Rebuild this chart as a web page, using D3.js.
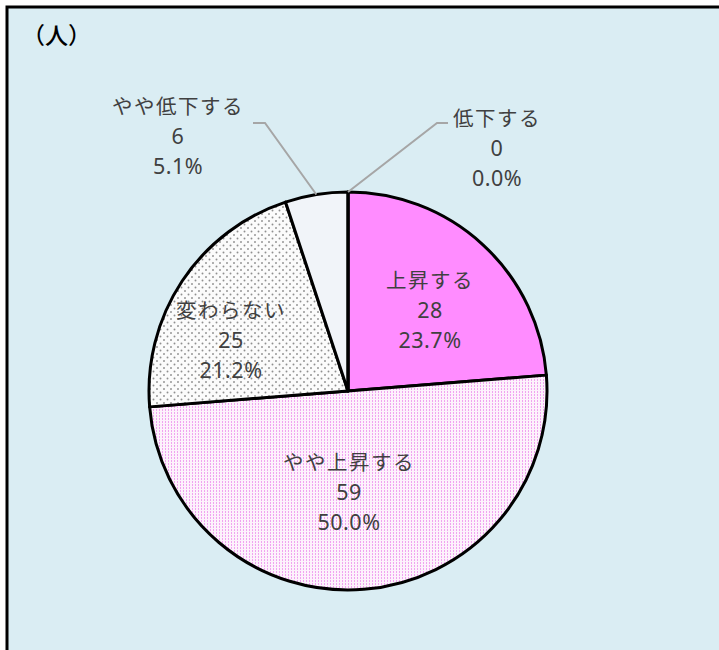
<!DOCTYPE html>
<html><head><meta charset="utf-8">
<script src="https://cdn.jsdelivr.net/npm/d3@7"></script>
<style>html,body{margin:0;padding:0;background:#fff;}svg{display:block;}</style>
</head><body>
<svg id="chart" width="719" height="650"></svg>
<script>
// ---- data ----
const categories = ["上昇する", "やや上昇する", "変わらない", "やや低下する", "低下する"];
const counts = [28, 59, 25, 6, 0];
const percentLabels = ["23.7%", "50.0%", "21.2%", "5.1%", "0.0%"];
const unitLabel = "（人）";

// ---- layout ----
const W = 719, H = 650;
const cx = 348, cy = 391, R = 199;
const cjkFont = "'Noto Sans CJK JP','Noto Sans',sans-serif";
const numFont = "'Noto Sans','Open Sans',sans-serif";
const cjkSize = 20.5, numSize = 21.5, lineGap = 30;
// label centre offsets relative to pie centre (annotation layout)
const labelOffsets = [[82, -82], [1, 100], [-117, -52], [-170, -256], [149, -244]];
// leader polyline (relative to label centre): elbow, end
const leaders = [null, null, null, [[87, -12], [75, -12]], [[-60, -24], [-49, -24]]];

const svg = d3.select("#chart");
const defs = svg.append("defs");

// pattern: dotted pink vertical (やや上昇する)
const p1 = defs.append("pattern").attr("id", "pinkDots").attr("patternUnits", "userSpaceOnUse")
  .attr("width", 3).attr("height", 3);
p1.append("rect").attr("width", 3).attr("height", 3).attr("fill", "#fdf2fc");
p1.append("rect").attr("x", 0).attr("y", 0).attr("width", 1).attr("height", 2).attr("fill", "#f0a4f0");

// pattern: gray dots (変わらない)
const p2 = defs.append("pattern").attr("id", "grayDots").attr("patternUnits", "userSpaceOnUse")
  .attr("width", 7).attr("height", 7);
p2.append("rect").attr("width", 7).attr("height", 7).attr("fill", "#fbfbfb");
p2.append("circle").attr("cx", 1.5).attr("cy", 1.5).attr("r", 0.95).attr("fill", "#8f8f8f");
p2.append("circle").attr("cx", 5).attr("cy", 5).attr("r", 0.95).attr("fill", "#8f8f8f");

// gradient (やや低下する)
const g1 = defs.append("linearGradient").attr("id", "blueGrad").attr("gradientUnits", "userSpaceOnUse")
  .attr("x1", 0).attr("y1", cy - R).attr("x2", 0).attr("y2", cy);
g1.append("stop").attr("offset", 0).attr("stop-color", "#f1f4f9");
g1.append("stop").attr("offset", 0.4).attr("stop-color", "#e2eaf4");
g1.append("stop").attr("offset", 1).attr("stop-color", "#8fbbe2");

const fills = ["#ff8cff", "url(#pinkDots)", "url(#grayDots)", "url(#blueGrad)", "#f4f6fa"];

// background + frame
svg.append("rect").attr("x", 7).attr("y", 7).attr("width", W + 20).attr("height", H + 20)
  .attr("fill", "#daedf3").attr("stroke", "#000").attr("stroke-width", 3);

// unit label
svg.append("text").attr("x", 22).attr("y", 34).attr("dominant-baseline", "central")
  .attr("font-family", cjkFont).attr("font-size", 23).attr("font-weight", 500)
  .attr("fill", "#000").text(unitLabel);

const pie = d3.pie().sort(null).value(d => d).startAngle(0).endAngle(2 * Math.PI);
const arcs = pie(counts);
const arc = d3.arc().innerRadius(0).outerRadius(R);

const g = svg.append("g").attr("transform", `translate(${cx},${cy})`);
g.selectAll("path.slice").data(arcs).enter().append("path")
  .attr("class", "slice")
  .attr("d", arc)
  .attr("fill", (d, i) => fills[i])
  .attr("stroke", "#000").attr("stroke-width", 3).attr("stroke-linejoin", "round");

// leader lines
arcs.forEach((d, i) => {
  if (!leaders[i]) return;
  const mid = (d.startAngle + d.endAngle) / 2;
  const px = Math.sin(mid) * R, py = -Math.cos(mid) * R;
  const [lx, ly] = labelOffsets[i];
  const pts = [[px, py], [lx + leaders[i][0][0], ly + leaders[i][0][1]], [lx + leaders[i][1][0], ly + leaders[i][1][1]]];
  g.append("path").attr("d", d3.line()(pts)).attr("fill", "none")
    .attr("stroke", "#a6a6a6").attr("stroke-width", 2);
});

// labels
arcs.forEach((d, i) => {
  const [lx, ly] = labelOffsets[i];
  const lines = [categories[i], String(counts[i]), percentLabels[i]];
  lines.forEach((s, k) => {
    const isCjk = k === 0;
    g.append("text").attr("text-anchor", "middle")
      .attr("x", lx).attr("y", ly + (k - 1) * lineGap)
      .attr("dominant-baseline", "central")
      .attr("font-family", isCjk ? cjkFont : numFont)
      .attr("font-size", isCjk ? cjkSize : numSize)
      .attr("letter-spacing", isCjk ? 1.5 : 0.5)
      .attr("fill", "#404040").text(s);
  });
});
</script>
</body></html>
